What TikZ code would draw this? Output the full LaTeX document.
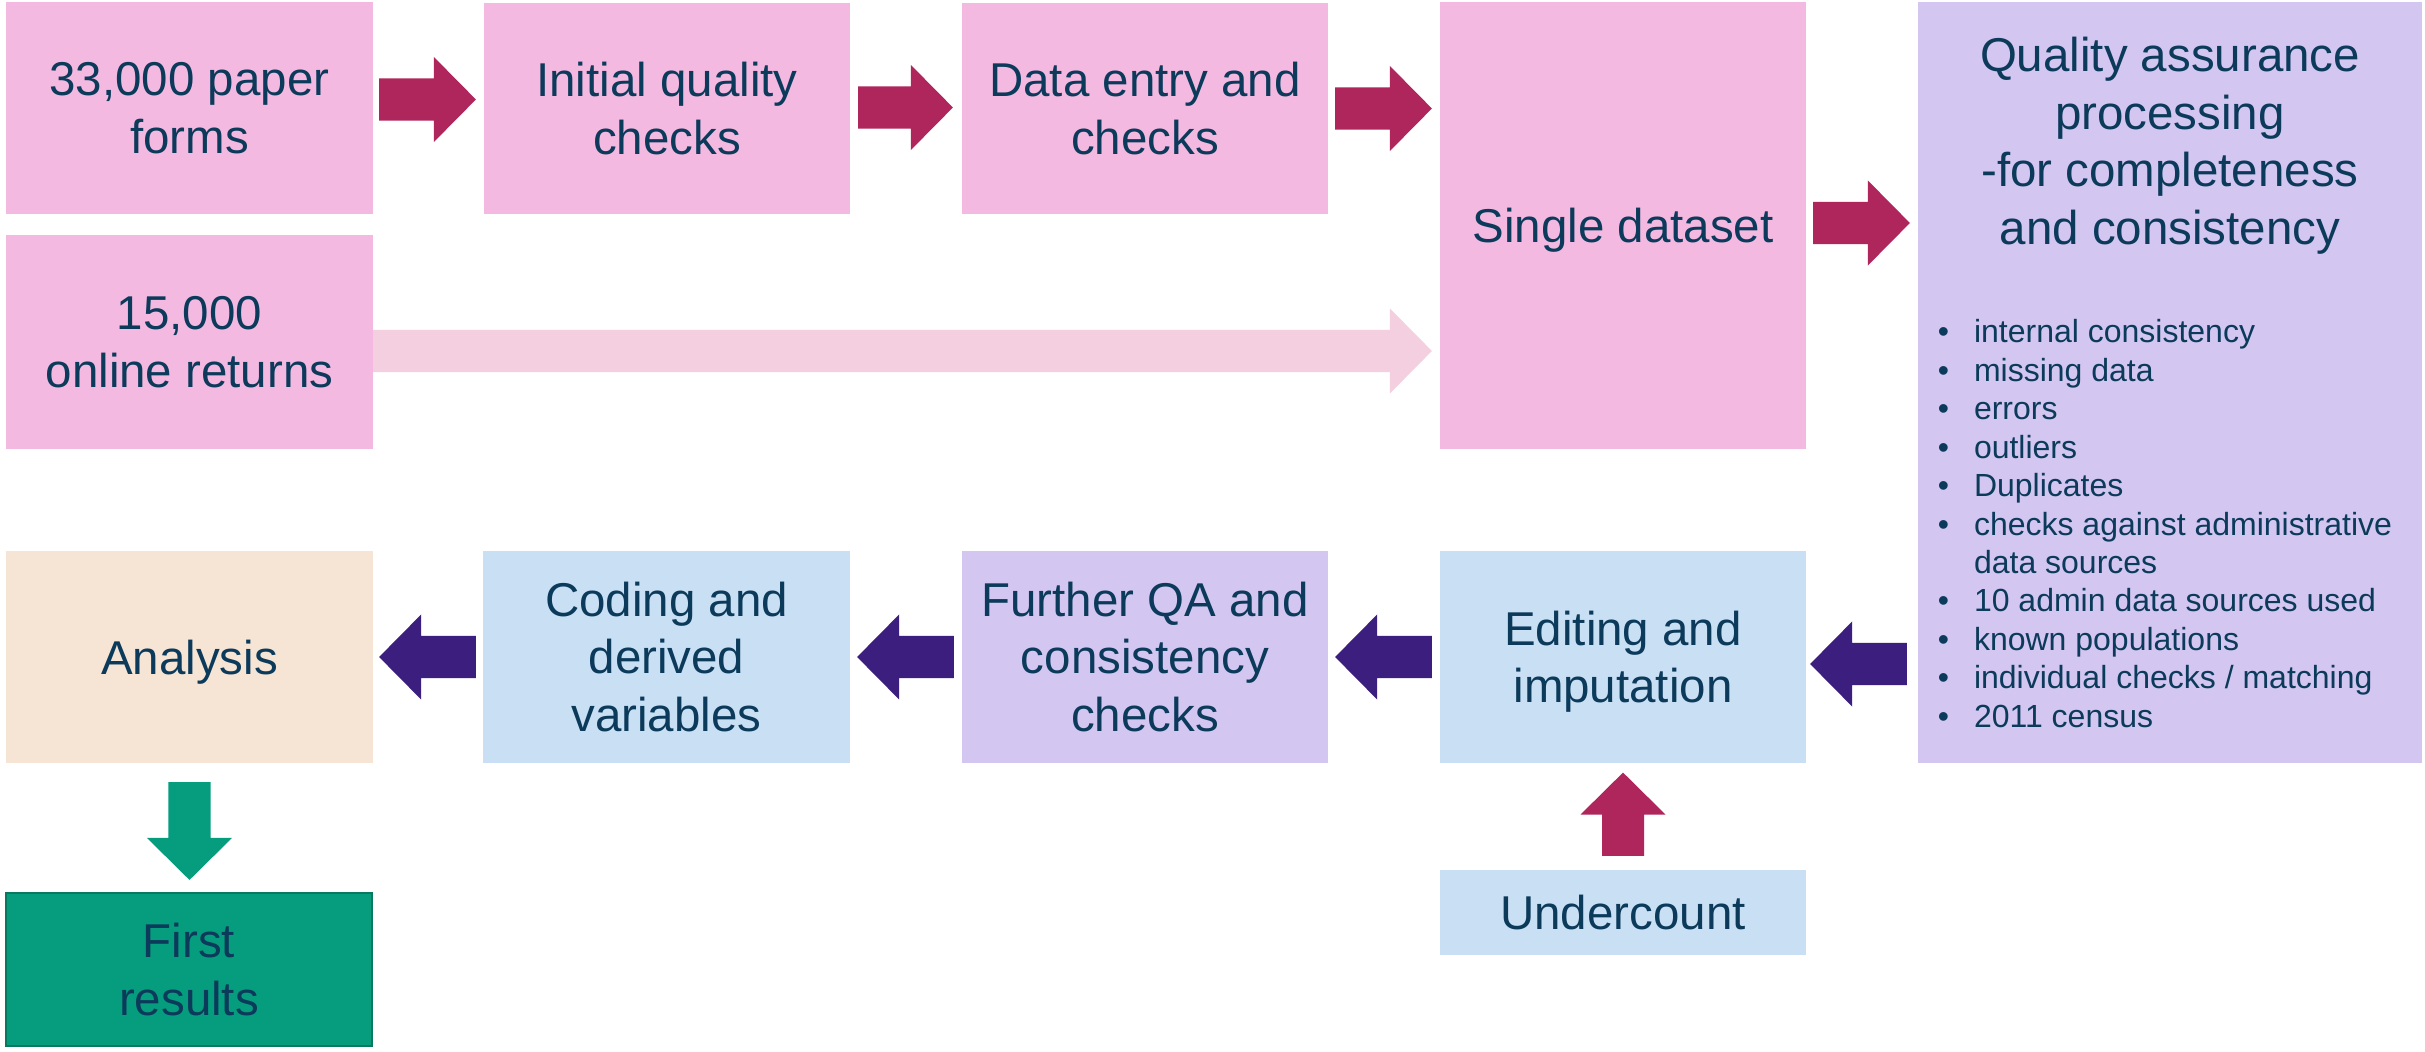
\documentclass[tikz,border=0pt]{standalone}
\usepackage{fontspec}
\setmainfont{Liberation Sans}
\usetikzlibrary{calc}
\definecolor{pinkb}{HTML}{F4B9E1}
\definecolor{lavb}{HTML}{D3C6F1}
\definecolor{blueb}{HTML}{C9DFF4}
\definecolor{beigeb}{HTML}{F6E5D5}
\definecolor{magar}{HTML}{AF265C}
\definecolor{purar}{HTML}{3B1E7E}
\definecolor{greenb}{HTML}{059D7E}
\definecolor{greend}{HTML}{08785F}
\definecolor{pinkar}{HTML}{F4CFE0}
\definecolor{navytxt}{HTML}{0C3A5A}
\newcommand\mainfs{\fontsize{13.5pt}{16.36pt}\selectfont}
\newcommand\bulfs{\fontsize{9.1pt}{10.9pt}\selectfont}
\newcommand\nd[1]{\raisebox{0pt}[\height][0pt]{#1}}
\newcommand\bt{\llap{\textbullet\hspace{0.25cm}}}
\def\asw{0.21cm}\def\ahw{0.425cm}\def\ahl{0.42cm}
\newcommand\arrR[3]{\fill[#3] let \p1=(#1), \p2=(#2) in (\x1,\y1+\asw) -- (\x2-\ahl,\y1+\asw) -- (\x2-\ahl,\y1+\ahw) -- (\x2,\y1) -- (\x2-\ahl,\y1-\ahw) -- (\x2-\ahl,\y1-\asw) -- (\x1,\y1-\asw) -- cycle;}
\newcommand\arrL[3]{\fill[#3] let \p1=(#1), \p2=(#2) in (\x1,\y1+\asw) -- (\x2+\ahl,\y1+\asw) -- (\x2+\ahl,\y1+\ahw) -- (\x2,\y1) -- (\x2+\ahl,\y1-\ahw) -- (\x2+\ahl,\y1-\asw) -- (\x1,\y1-\asw) -- cycle;}
\newcommand\arrU[3]{\fill[#3] let \p1=(#1), \p2=(#2) in (\x1+\asw,\y1) -- (\x1+\asw,\y2-\ahl) -- (\x1+\ahw,\y2-\ahl) -- (\x1,\y2) -- (\x1-\ahw,\y2-\ahl) -- (\x1-\asw,\y2-\ahl) -- (\x1-\asw,\y1) -- cycle;}
\newcommand\arrD[3]{\fill[#3] let \p1=(#1), \p2=(#2) in (\x1+\asw,\y1) -- (\x1+\asw,\y2+\ahl) -- (\x1+\ahw,\y2+\ahl) -- (\x1,\y2) -- (\x1-\ahw,\y2+\ahl) -- (\x1-\asw,\y2+\ahl) -- (\x1-\asw,\y1) -- cycle;}
\begin{document}
\begin{tikzpicture}[x=0.01cm,y=-0.01cm,
  box/.style={rectangle, inner sep=0pt, outer sep=0pt, align=center, text=navytxt, font=\mainfs},
  bul/.style={anchor=base west, inner sep=0pt, outer sep=0pt, text=navytxt, font=\bulfs}]
\useasboundingbox (0,0) rectangle (2425,1052);
\fill[white] (0,0) rectangle (2425,1052);
% top rows
\node[box, fill=pinkb, minimum width=3.67cm, minimum height=2.12cm] (b1) at (189.5,108) {33,000 paper\\forms};
\node[box, fill=pinkb, minimum width=3.66cm, minimum height=2.11cm] (b2) at (667,108.5) {Initial quality\\checks};
\node[box, fill=pinkb, minimum width=3.66cm, minimum height=2.11cm] (b3) at (1145,108.5) {Data entry and\\checks};
\node[box, fill=pinkb, minimum width=3.66cm, minimum height=4.47cm] (sd) at (1623,225.5) {\nd{Single dataset}};
\node[box, fill=pinkb, minimum width=3.67cm, minimum height=2.14cm] (b4) at (189.5,342) {15,000\\online returns};
\node[box, fill=lavb, minimum width=5.04cm, minimum height=7.61cm] (qa) at (2170,382.5) {};
\node[box] (qat) at (2170,141) {Quality assurance\\processing\\-for completeness\\\nd{and consistency}};
\node[bul] (q1) at (1974,343) {\bt internal consistency};
\node[bul] (q2) at (1974,381.4) {\bt missing data};
\node[bul] (q3) at (1974,419.8) {\bt errors};
\node[bul] (q4) at (1974,458.2) {\bt outliers};
\node[bul] (q5) at (1974,496.6) {\bt Duplicates};
\node[bul] (q6) at (1974,535) {\bt checks against administrative};
\node[bul] (q7) at (1974,573.4) {data sources};
\node[bul] (q8) at (1974,611.8) {\bt 10 admin data sources used};
\node[bul] (q9) at (1974,650.2) {\bt known populations};
\node[bul] (q10) at (1974,688.6) {\bt individual checks / matching};
\node[bul] (q11) at (1974,727) {\bt 2011 census};
% bottom row
\node[box, fill=beigeb, minimum width=3.67cm, minimum height=2.12cm] (an) at (189.5,657) {\nd{Analysis}};
\node[box, fill=blueb, minimum width=3.67cm, minimum height=2.12cm] (cd) at (666.5,657) {Coding and\\derived\\variables};
\node[box, fill=lavb, minimum width=3.66cm, minimum height=2.12cm] (fq) at (1145,657) {Further QA and\\consistency\\checks};
\node[box, fill=blueb, minimum width=3.66cm, minimum height=2.12cm] (ed) at (1623,657) {Editing and\\\nd{imputation}};
\node[box, fill=blueb, minimum width=3.66cm, minimum height=0.85cm] (uc) at (1623,912.5) {Undercount};
\node[box, fill=greenb, draw=greend, line width=0.02cm, minimum width=3.66cm, minimum height=1.53cm] (fr) at (189,969.5) {First\\results};
% arrows
\arrR{[shift={(6,-8.5)}]b1.east}{[shift={(-8,0)}]b2.west}{magar}
\arrR{[shift={(8,-1)}]b2.east}{[shift={(-9,0)}]b3.west}{magar}
\arrR{[shift={(7,0)}]b3.east}{[shift={(-8,0)}]sd.west}{magar}
\arrR{[shift={(0,9)}]b4.east}{[shift={(-8,0)}]sd.west}{pinkar}
\arrR{[shift={(7,-2.5)}]sd.east}{[shift={(-8,0)}]qa.west}{magar}
\arrL{$(ed.east -| qa.west)+(-11,7)$}{[shift={(4,0)}]ed.east}{purar}
\arrL{[shift={(-8,0)}]ed.west}{[shift={(7,0)}]fq.east}{purar}
\arrL{[shift={(-8,0)}]fq.west}{[shift={(7,0)}]cd.east}{purar}
\arrL{[shift={(-7,0)}]cd.west}{[shift={(6,0)}]an.east}{purar}
\arrU{[shift={(0,-14)}]uc.north}{[shift={(0,9.5)}]ed.south}{magar}
\arrD{[shift={(0,19)}]an.south}{[shift={(0,-13)}]fr.north}{greenb}
\end{tikzpicture}
\end{document}
